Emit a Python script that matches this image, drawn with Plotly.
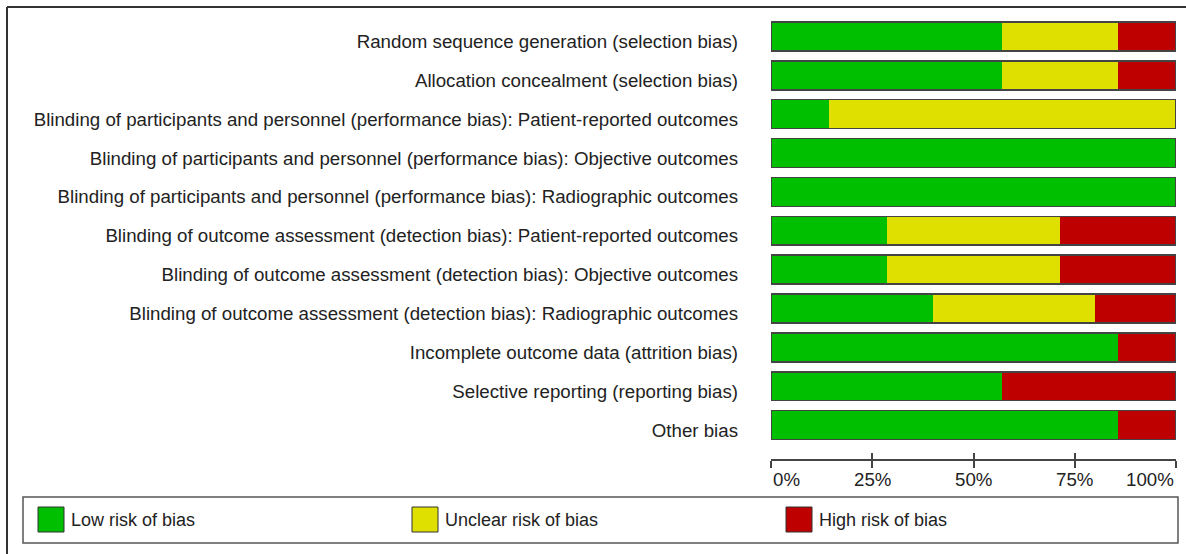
import plotly.graph_objects as go

# risk of bias summary, 11 domains, percentages
domains = [
    'Random sequence generation (selection bias)',
    'Allocation concealment (selection bias)',
    'Blinding of participants and personnel (performance bias): Patient-reported outcomes',
    'Blinding of participants and personnel (performance bias): Objective outcomes',
    'Blinding of participants and personnel (performance bias): Radiographic outcomes',
    'Blinding of outcome assessment (detection bias): Patient-reported outcomes',
    'Blinding of outcome assessment (detection bias): Objective outcomes',
    'Blinding of outcome assessment (detection bias): Radiographic outcomes',
    'Incomplete outcome data (attrition bias)',
    'Selective reporting (reporting bias)',
    'Other bias',
]
low_risk = [57.1, 57.1, 14.3, 100, 100, 28.6, 28.6, 40, 85.7, 57.1, 85.7]
unclear_risk = [28.6, 28.6, 85.7, 0, 0, 42.8, 42.8, 40, 0, 0, 0]
high_risk = [14.3, 14.3, 0, 0, 0, 28.6, 28.6, 20, 14.3, 42.9, 14.3]

tick_vals = [0, 25, 50, 75, 100]
tick_text = ['0%', '25%', '50%', '75%', '100%']

legend_names = ['Low risk of bias', 'Unclear risk of bias', 'High risk of bias']
colors = ['#00BF00', '#DFDF00', '#BF0000']

W, H = 1186, 554
FONT = 'Arial, Liberation Sans, sans-serif'
FSIZE = 18.7
TXT = '#222222'

def px_x(p):
    return p / W

def px_y(p):
    return 1 - p / H

fig = go.Figure()

#stacked segments
for name, vals, col in zip(legend_names, [low_risk, unclear_risk, high_risk], colors):
    fig.add_trace(go.Bar(y=domains, x=vals, orientation='h', name=name,
                         marker=dict(color=col, line=dict(width=0)),
                         showlegend=False, hoverinfo='x+name'))

#outline round each whole bar (own axis so it doesn't stack)
totals = [a + b + c for a, b, c in zip(low_risk, unclear_risk, high_risk)]
fig.add_trace(go.Bar(y=domains, x=totals, orientation='h', xaxis='x2',
                     marker=dict(color='rgba(0,0,0,0)', line=dict(color='#444444', width=1.5)),
                     showlegend=False, hoverinfo='skip'))

x_dom = [px_x(771), px_x(1176)]
axis_pos = px_y(460)

fig.update_layout(
    width=W, height=H,
    margin=dict(l=0, r=0, t=0, b=0),
    paper_bgcolor='white', plot_bgcolor='white',
    barmode='stack', bargap=0.256,
    font=dict(family=FONT, size=FSIZE, color=TXT),
    xaxis=dict(domain=x_dom, range=[0, 100], anchor='free', position=axis_pos,
               showgrid=False, zeroline=False, showline=True, linecolor='#444444', linewidth=1.5,
               ticks='outside', ticklen=7, tickwidth=1.5, tickcolor='#444444',
               tickvals=tick_vals, showticklabels=False, fixedrange=True),
    xaxis2=dict(domain=x_dom, range=[0, 100], overlaying='x', visible=False),
    xaxis3=dict(domain=x_dom, range=[0, 100], overlaying='x', anchor='free', position=axis_pos,
                showgrid=False, zeroline=False, showline=False,
                ticks='inside', ticklen=7, tickwidth=1.5, tickcolor='#444444',
                tickvals=tick_vals, showticklabels=False),
    yaxis=dict(domain=[px_y(444.5), px_y(17)], autorange='reversed', showgrid=False,
               zeroline=False, showline=False, ticks='', ticklabelstandoff=32,
               ticklabelshift=-5,
               tickfont=dict(family=FONT, size=FSIZE, color=TXT)),
)

#dummy trace so x3 gets drawn
fig.add_trace(go.Scatter(x=[None], y=[None], xaxis='x3', showlegend=False, hoverinfo='skip'))

#percent labels under the axis, ends pulled inward like the original
for v, t in zip(tick_vals, tick_text):
    anchor = 'left' if v == tick_vals[0] else ('right' if v == tick_vals[-1] else 'center')
    fig.add_annotation(x=v, xref='x', y=px_y(479), yref='paper', text=t, showarrow=False,
                       xanchor=anchor, yanchor='middle', font=dict(family=FONT, size=FSIZE, color=TXT))

#outer frame (top and left edge)
fig.add_shape(type='line', xref='paper', yref='paper', x0=px_x(7), x1=1, y0=px_y(7), y1=px_y(7),
              line=dict(color='#333333', width=2))
fig.add_shape(type='line', xref='paper', yref='paper', x0=px_x(7), x1=px_x(7), y0=0, y1=px_y(7),
              line=dict(color='#333333', width=2))

#legend box
fig.add_shape(type='rect', xref='paper', yref='paper', x0=px_x(23), x1=px_x(1178),
              y0=px_y(543), y1=px_y(497), line=dict(color='#555555', width=1.5), fillcolor='white')
legend_left = [38, 412, 786]
for name, col, lx in zip(legend_names, colors, legend_left):
    fig.add_shape(type='rect', xref='paper', yref='paper', x0=px_x(lx), x1=px_x(lx + 26),
                  y0=px_y(532), y1=px_y(507), line=dict(color='#333333', width=1), fillcolor=col)
    fig.add_annotation(x=px_x(lx + 31), xref='paper', y=px_y(520), yref='paper', text=name,
                       showarrow=False, xanchor='left', yanchor='middle',
                       font=dict(family=FONT, size=18, color=TXT))

#drop the default body margin so the figure sits at the window corner
fig.write_html("out.html", config={'displayModeBar': False},
               post_script="document.body.style.margin='0';")
